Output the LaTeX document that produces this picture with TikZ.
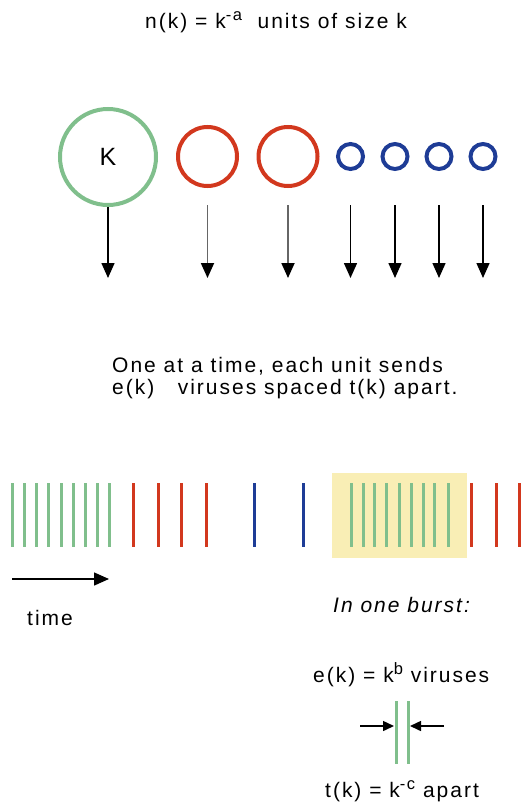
\documentclass[tikz,border=0pt]{standalone}
\usepackage{fontspec}
\setmainfont{Liberation Sans}
\usetikzlibrary{arrows.meta}
\definecolor{unitgreen}{HTML}{80BF8C}
\definecolor{unitred}{HTML}{D2381E}
\definecolor{unitblue}{HTML}{1E3C96}
\definecolor{burstbg}{HTML}{F9EEB5}
\definecolor{stemgray}{HTML}{666666}
% raised exponent, kept nearly full size
\newcommand{\expo}[1]{\raisebox{8pt}{\fontsize{16.5}{16.5}\selectfont #1}}
\begin{document}
\begin{tikzpicture}[x=1pt,y=-1pt,
  txt/.style={anchor=base west, inner sep=0pt,
    font=\fontsize{21}{22}\selectfont\addfontfeature{LetterSpace=9.5}},
  unit/.style={circle, line width=4pt, inner sep=0pt},
  drop/.style={line width=1.5pt, -{Triangle[length=15pt,width=13pt]}},
  tick/.style={line width=3pt},
  gap/.style={line width=1.5pt, -{Triangle[length=11pt,width=10pt]}}]
\useasboundingbox (0,0) rectangle (520,808);

% heading
\node[txt] (head) at (145,29) {n(k) = k\expo{-a}\ \ units of size k};

% units of decreasing size
\node[unit, draw=unitgreen, minimum size=96pt, font=\fontsize{25}{25}\selectfont] (g) at (108,157) {K};
\node[unit, draw=unitred, minimum size=59pt] (r1) at (207.5,156.5) {};
\node[unit, draw=unitred, minimum size=59pt] (r2) at (288,156.5) {};
\node[unit, draw=unitblue, minimum size=25pt] (b1) at (350.5,156.5) {};
\node[unit, draw=unitblue, minimum size=25pt] (b2) at (395,156.5) {};
\node[unit, draw=unitblue, minimum size=25pt] (b3) at (439,156.5) {};
\node[unit, draw=unitblue, minimum size=25pt] (b4) at (483,156.5) {};

\coordinate (gd) at (108,278);
\coordinate (r1d) at (207.5,278);
\coordinate (r2d) at (288,278);
\coordinate (b1d) at (350.5,278);
\coordinate (b2d) at (395,278);
\coordinate (b3d) at (439,278);
\coordinate (b4d) at (483,278);

\draw[drop] (g.south) -- (gd);
\draw[drop, line width=1.8pt, stemgray, -{Triangle[length=15pt,width=13pt,black]}, shorten <=17pt] (r1.south) -- (r1d);
\draw[drop, line width=1.8pt, stemgray, -{Triangle[length=15pt,width=13pt,black]}, shorten <=17pt] (r2.south) -- (r2d);
\draw[drop, shorten <=34pt] (b1.south) -- (b1d);
\draw[drop, shorten <=34pt] (b2.south) -- (b2d);
\draw[drop, shorten <=34pt] (b3.south) -- (b3d);
\draw[drop, shorten <=34pt] (b4.south) -- (b4d);

% caption
\node[txt] (cap1) at (112,372) {One at a time, each unit sends};
\node[txt] (cap2) at (112,394) {e(k)\ \ \ viruses spaced t(k) apart.};

% highlighted burst
\fill[burstbg] (332,473) rectangle (467,558);

% stream of viruses
\foreach \x in {12,24,36,48,61,73,85,97,109,351,363,374,386,399,411,423,434,448}
  \draw[tick, unitgreen] (\x,483) -- (\x,547);
\foreach \x in {133,158,181,206,471,496,519}
  \draw[tick, unitred] (\x,483) -- (\x,547);
\foreach \x in {254,303}
  \draw[tick, unitblue] (\x,483) -- (\x,547);

% time axis
\coordinate (t0) at (12,579);
\coordinate (t1) at (109,579);
\draw[drop] (t0) -- (t1);
\node[txt] (time) at (27,625) {time};

% burst detail
\node[txt, font=\fontsize{21}{22}\selectfont\itshape\addfontfeature{LetterSpace=9.5}] (burst) at (333,612) {In one burst:};
\node[txt] (ek) at (313,682) {e(k) = k\expo{b} viruses};
\draw[tick, unitgreen] (396,701) coordinate (v1a) -- (396,764) coordinate (v1b);
\draw[tick, unitgreen] (408,701) coordinate (v2a) -- (408,764) coordinate (v2b);
\coordinate (la) at (360,726);
\coordinate (lb) at (394,726);
\coordinate (ra) at (444,726);
\coordinate (rb) at (410,726);
\draw[gap] (la) -- (lb);
\draw[gap] (ra) -- (rb);
\node[txt] (tk) at (325,797) {t(k) = k\expo{-c} apart};
\end{tikzpicture}
\end{document}
